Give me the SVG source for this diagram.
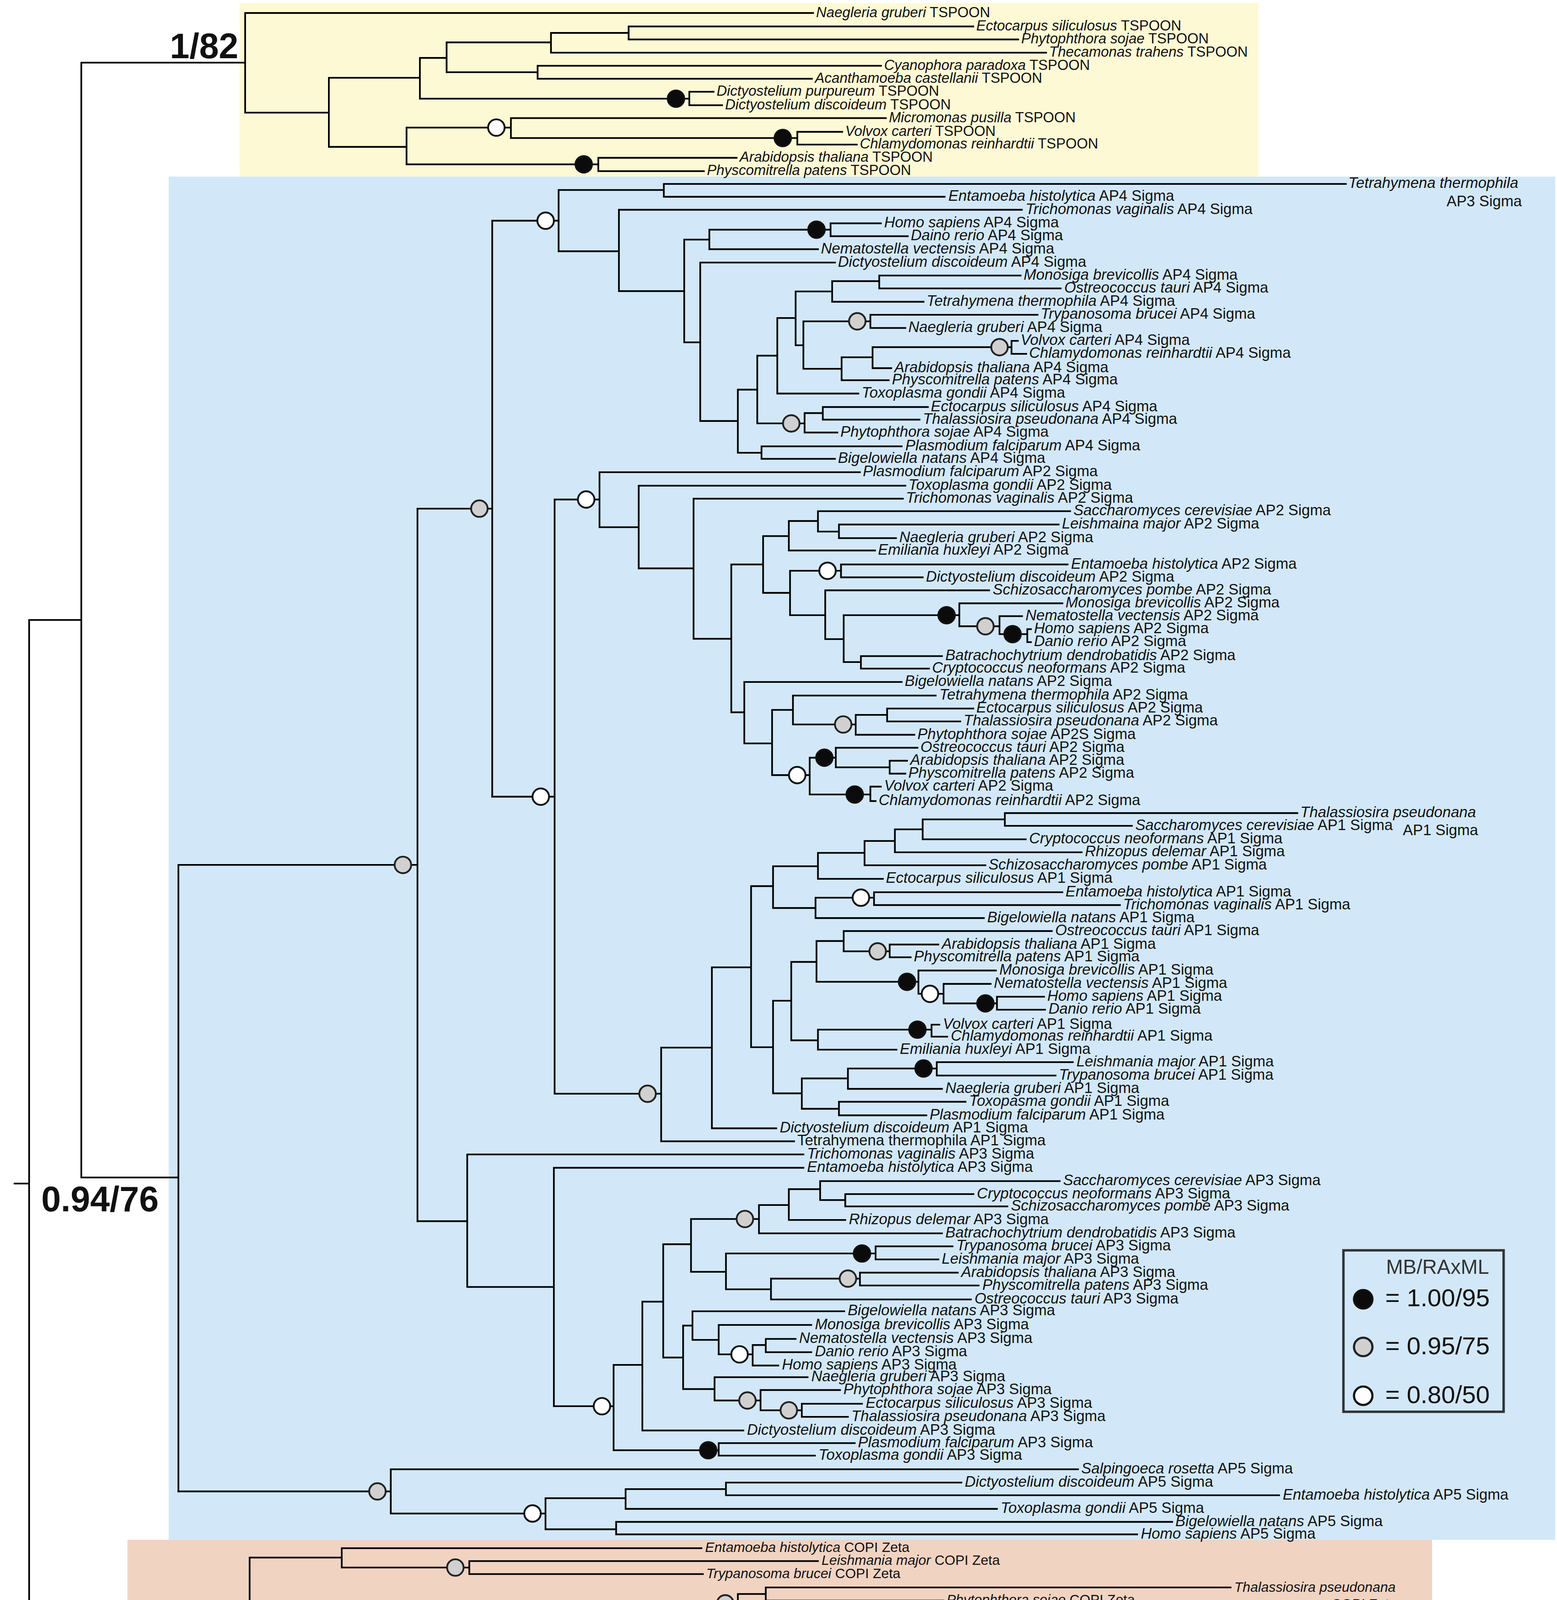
<svg xmlns="http://www.w3.org/2000/svg" width="3987" height="4873" viewBox="0 0 3987 4873">
<defs><style>
.t{font-family:"Liberation Sans",Arial,Helvetica,sans-serif;fill:#111}
.ap{font-size:12.4px}
.ts{font-size:11.8px}
.co{font-size:11.4px}
.i{font-style:italic}
.sup{font-family:"Liberation Sans",Arial,sans-serif;font-weight:bold;font-size:29px;fill:#111}
.br{fill:none;stroke:#000;stroke-width:1.4;stroke-linecap:square}
.b{fill:#0b0b0b;stroke:#111;stroke-width:1.5}
.g{fill:#d0d0d0;stroke:#222;stroke-width:1.5}
.w{fill:#fff;stroke:#111;stroke-width:1.5}
.lg{font-family:"Liberation Sans",Arial,sans-serif;fill:#111;font-size:20.5px}
</style></defs>
<rect width="3987" height="4873" fill="#fff"/>
<g transform="scale(3.1076)">
<g id="clade-boxes">
<rect x="197.5" y="2.5" width="839.5" height="143" fill="#fdf9d5"/>
<rect x="139" y="145.5" width="1142.5" height="1123" fill="#d2e8f8"/>
<rect x="105" y="1268.5" width="1075" height="245.5" fill="#f1d3c2"/>
</g>
<g id="connectors" class="br">
<path d="M12,975H24M24,510.7V1439.2M24,510.7H67M67,51.6V970M67,51.6H202M67,970H147M24,1439.2H110.9"/>
<path d="M202,10.7V92.8M202,10.7H670M202,92.8H271M271,64.1V121M271,64.1H346M346,47.7V81.3M346,47.7H368M368,34.9V59.5M368,34.9H454M454,27.1V43.4M454,27.1H518M518,21.8V32.5M518,21.8H802M518,32.5H839M454,43.4H862M368,59.5H443M443,54.2V64.9M443,54.2H726M443,64.9H669M346,81.3H568M568,75.6V86.7M568,75.6H588M568,86.7H595M271,121H335M335,105.1V135.4M335,105.1H421M421,97.3V113.7M421,97.3H730M421,113.7H657M657,108.6V119.1M657,108.6H694M657,119.1H706M335,135.4H493M493,130V141M493,130H607M493,141H580"/>
<path d="M147,712.5V1228.6M147,712.5H344M344,419V1006M344,419H405.6M405.6,181.8V656.3M405.6,181.8H460.3M460.3,156.5V207M460.3,156.5H547M547,151.5V162.1M547,151.5H1109M547,162.1H778.4M460.3,207H510M510,172.8V239.8M510,172.8H842M510,239.8H563.8M563.8,197.4V282M563.8,197.4H584.5M584.5,189.2V205.3M584.5,189.2H684.4M684.4,184V194.6M684.4,184H725.8M684.4,194.6H748M584.5,205.3H674M563.8,282H577M577,216.3V346.8M577,216.3H688M577,346.8H608M608,321V373M608,321H624M624,293V348.8M624,293H640.5M640.5,262V324.2M640.5,262H655.6M655.6,240.1V284.4M655.6,240.1H685.7M685.7,231.6V248.6M685.7,231.6H724.5M724.5,227V237.6M724.5,227H841M724.5,237.6H874M685.7,248.6H761M655.6,284.4H662M662,264.7V303.8M662,264.7H717.2M717.2,259.3V270.2M717.2,259.3H855M717.2,270.2H746M662,303.8H693.5M693.5,294.3V313.2M693.5,294.3H719M719,286V303.3M719,286H833.5M833.5,280.8V291.5M833.5,280.8H838.7M833.5,291.5H845.6M719,303.3H734.4M693.5,313.2H732.3M640.5,324.2H707.3M624,348.8H663M663,340.3V356.3M663,340.3H678M678,335.3V345.7M678,335.3H764.6M678,345.7H757.7M663,356.3H690M608,373H627.5M627.5,367.7V378M627.5,367.7H743M627.5,378H688"/>
<path d="M405.6,656.3H457M457,411.5V901M457,411.5H494M494,389V434.3M494,389H708.6M494,434.3H526.3M526.3,400.1V468.2M526.3,400.1H746M526.3,468.2H571.5M571.5,410.8V526.2M571.5,410.8H744M571.5,526.2H602.6M602.6,465V586.8M602.6,465H628.8M628.8,441.6V488.4M628.8,441.6H650M650,429.2V453.5M650,429.2H674M674,421.1V437.9M674,421.1H881.8M674,437.9H691.3M691.3,432.1V443.3M691.3,432.1H872.3M691.3,443.3H738.3M650,453.5H721M628.8,488.4H651M651,470.2V506.8M651,470.2H693M693,465V475.6M693,465H879.7M693,475.6H760.3M651,506.8H680M680,486.3V526.5M680,486.3H815M680,526.5H695.2M695.2,506.8V545.4M695.2,506.8H790.5M790.5,497V515.9M790.5,497H875.4M790.5,515.9H823.6M823.6,507.6V522.4M823.6,507.6H842.2M823.6,522.4H846.5M846.5,518.3V529M846.5,518.3H849.5M846.5,529H849.5M695.2,545.4H709.4M709.4,540.5V550.8M709.4,540.5H776.2M709.4,550.8H765.5M602.6,586.8H613.3M613.3,561.8V612.4M613.3,561.8H743M613.3,612.4H636.2M636.2,584.8V638.5M636.2,584.8H653.4M653.4,573V596.8M653.4,573H771M653.4,596.8H705.1M705.1,588.9V605.3M705.1,588.9H731M731,583.7V594.3M731,583.7H802M731,594.3H791.3M705.1,605.3H753.4M636.2,638.5H667.2M667.2,624.2V654.5M667.2,624.2H688.7M688.7,616V632.1M688.7,616H756M688.7,632.1H733.1M733.1,626.7V637.3M733.1,626.7H747.4M733.1,637.3H746M667.2,654.5H717.2M717.2,648V659.9M717.2,648H725.8M717.2,659.9H721.5"/>
<path d="M457,901H544.8M544.8,863V940.2M544.8,863H586.6M544.8,940.2H654.3M586.6,796.9V929.5M586.6,796.9H618.9M586.6,929.5H639.6M618.9,730V862.7M618.9,730H637M637,713.6V748M637,713.6H674M674,702.6V724M674,702.6H712.4M712.4,692.8V712.8M712.4,692.8H737.4M737.4,683.2V702.1M737.4,683.2H760.3M760.3,675V691.4M760.3,675H828M828,669.8V680.3M828,669.8H1069M828,680.3H932.7M760.3,691.4H845.2M737.4,702.1H891.3M712.4,712.8H812M674,724H727.5M637,748H672M672,739.5V756.3M672,739.5H720.2M720.2,735V745.6M720.2,735H875.4M720.2,745.6H922.8M672,756.3H810.7M618.9,862.7H637M637,824.4V900.7M637,824.4H652M652,792.4V857M652,792.4H672.8M672.8,775.2V808.8M672.8,775.2H695.2M695.2,767V783.7M695.2,767H866.7M695.2,783.7H733.1M733.1,778.1V788.6M733.1,778.1H773.2M733.1,788.6H750.4M672.8,808.8H756.8M756.8,799.5V818.7M756.8,799.5H820.6M756.8,818.7H777.5M777.5,810.5V826.6M777.5,810.5H816.3M777.5,826.6H821.5M821.5,821.1V831.8M821.5,821.1H860.3M821.5,831.8H861.1M652,857H674M674,848.2V864.7M674,848.2H767.6M767.6,844.1V854M767.6,844.1H774M767.6,854H780.5M674,864.7H738.7M637,900.7H660.7M660.7,888.4V913.4M660.7,888.4H698.7M698.7,880.2V897M698.7,880.2H771.9M771.9,875V886M771.9,875H884M771.9,886H869.8M698.7,897H776.2M660.7,913.4H691.3M691.3,907.6V918.8M691.3,907.6H795.6M691.3,918.8H763.3"/>
<path d="M344,1006H385M385,951V1060.2M385,951H662M385,1060.2H456.4M456.4,962V1158.4M456.4,962H662M456.4,1158.4H505.6M505.6,1124.4V1194.7M505.6,1124.4H529.3M529.3,1072.3V1178.4M529.3,1072.3H546.5M546.5,1025V1118.3M546.5,1025H569.4M569.4,1004.2V1047.7M569.4,1004.2H625.4M625.4,992.7V1016M625.4,992.7H650M650,979.6V1005M650,979.6H675.8M675.8,973V988.6M675.8,973H873.2M675.8,988.6H696.5M696.5,983.7V993.8M696.5,983.7H802.1M696.5,993.8H830.1M650,1005H696.5M625.4,1016H776.2M569.4,1047.7H598.2M598.2,1032.6V1062.1M598.2,1032.6H721.5M721.5,1026.7V1037.5M721.5,1026.7H784.9M721.5,1037.5H773.2M598.2,1062.1H635.3M635.3,1053.3V1070.5M635.3,1053.3H708.6M708.6,1048.4V1059M708.6,1048.4H789.2M708.6,1059H806.4M635.3,1070.5H800M546.5,1118.3H562.9M562.9,1092V1144.3M562.9,1092H570.6M570.6,1080.2V1103.8M570.6,1080.2H695.6M570.6,1103.8H592.2M592.2,1091.5V1115.7M592.2,1091.5H668.5M592.2,1115.7H620.2M620.2,1108V1124.9M620.2,1108H631M631,1103V1113.9M631,1103H655.6M631,1113.9H668.5M620.2,1124.9H641.3M562.9,1144.3H588.8M588.8,1134.5V1153.7M588.8,1134.5H665.5M588.8,1153.7H626.7M626.7,1145.1V1161.8M626.7,1145.1H692.2M626.7,1161.8H660.7M660.7,1156.4V1167.2M660.7,1156.4H710.3M660.7,1167.2H698.7M529.3,1178.4H612.5M505.6,1194.7H592.2M592.2,1188.8V1199.1M592.2,1188.8H704.3M592.2,1199.1H671.5"/>
<path d="M147,1228.6H322M322,1210.4V1246.8M322,1210.4H888.3M322,1246.8H449.5M449.5,1234.2V1259.8M449.5,1234.2H515.5M515.5,1226.7V1243M515.5,1226.7H598.2M598.2,1221.3V1231.8M598.2,1221.3H792.2M598.2,1231.8H1054M515.5,1243H821.5M449.5,1259.8H507.7M507.7,1253.7V1264M507.7,1253.7H965.9M507.7,1264H937"/>
<path d="M110.9,1377.1V1501.9M110.9,1501.9H411.4M110.9,1377.1H205.7M205.7,1283.1V1470.2M205.7,1283.1H281.6M281.6,1275.4V1291.3M281.6,1275.4H578M281.6,1291.3H386.7M386.7,1286V1296.7M386.7,1286H674M386.7,1296.7H579.2M205.7,1470.2H293.6M293.6,1454.3V1486M293.6,1454.3H343.6M343.6,1439.5V1469.9M343.6,1439.5H398.2M398.2,1420.7V1458.7M398.2,1420.7H438.4M438.4,1393.1V1448.2M438.4,1393.1H476.9M476.9,1355V1432.1M476.9,1355H507.4M507.4,1330.7V1379.3M507.4,1330.7H537.8M537.8,1320.8V1340.5M537.8,1320.8H608M608,1313.1V1329M608,1313.1H631M631,1307.7V1318.5M631,1307.7H1014M631,1318.5H777.4M608,1329H716M537.8,1340.5H714.2M507.4,1379.3H545.9M545.9,1359.1V1400.1M545.9,1359.1H613.7M613.7,1350.9V1366.5M613.7,1350.9H823.4M613.7,1366.5H722.8M722.8,1361.5V1372.7M722.8,1361.5H915.4M722.8,1372.7H1039M545.9,1400.1H590.7M590.7,1388.6V1410.5M590.7,1388.6H668.3M668.3,1383.7V1394.7M668.3,1383.7H681.5M668.3,1394.7H676.9M590.7,1410.5H662.5M662.5,1405V1415.7M662.5,1405H763M662.5,1415.7H711.4M476.9,1432.1H510.3M510.3,1426.4V1437.4M510.3,1426.4H717.1M510.3,1437.4H662.5M438.4,1448.2H533.2M398.2,1458.7H507.4M343.6,1469.9H501.6M293.6,1486H339.6M339.6,1480.6V1491.3M339.6,1480.6H550.5M339.6,1491.3H474.6"/>
<path d="M483.5,1543H637" style="stroke-width:2.1;stroke-linecap:round"/>
</g>
<g id="support-nodes">
<circle class="b" cx="557" cy="81.3" r="6.8"/><circle class="w" cx="409" cy="105.1" r="6.8"/><circle class="b" cx="645" cy="113.7" r="6.8"/><circle class="b" cx="481" cy="135.4" r="6.8"/>
<circle class="g" cx="332" cy="712.5" r="6.8"/><circle class="g" cx="395" cy="419" r="6.8"/><circle class="w" cx="449.6" cy="181.8" r="6.8"/><circle class="b" cx="672.8" cy="189.2" r="6.8"/><circle class="g" cx="706.4" cy="264.7" r="6.8"/><circle class="g" cx="823.6" cy="286" r="6.8"/><circle class="g" cx="652" cy="348.8" r="6.8"/>
<circle class="w" cx="445.6" cy="656.3" r="6.8"/><circle class="w" cx="483" cy="411.5" r="6.8"/><circle class="w" cx="681.9" cy="470.2" r="6.8"/><circle class="b" cx="780" cy="506.8" r="6.8"/><circle class="g" cx="812" cy="515.9" r="6.8"/><circle class="b" cx="834.4" cy="522.4" r="6.8"/><circle class="g" cx="694.8" cy="596.8" r="6.8"/><circle class="w" cx="656.9" cy="638.5" r="6.8"/><circle class="b" cx="679.3" cy="624.2" r="6.8"/><circle class="b" cx="704.3" cy="654.5" r="6.8"/>
<circle class="g" cx="533.6" cy="901" r="6.8"/><circle class="w" cx="709.4" cy="739.5" r="6.8"/><circle class="g" cx="723.2" cy="783.7" r="6.8"/><circle class="b" cx="747.4" cy="808.8" r="6.8"/><circle class="w" cx="766.3" cy="818.7" r="6.8"/><circle class="b" cx="812" cy="826.6" r="6.8"/><circle class="b" cx="756" cy="848.2" r="6.8"/><circle class="b" cx="761" cy="880.2" r="6.8"/>
<circle class="g" cx="613.8" cy="1004.2" r="6.8"/><circle class="b" cx="710.3" cy="1032.6" r="6.8"/><circle class="g" cx="698.7" cy="1053.3" r="6.8"/><circle class="w" cx="609.4" cy="1115.7" r="6.8"/><circle class="g" cx="615.9" cy="1153.7" r="6.8"/><circle class="g" cx="650" cy="1161.8" r="6.8"/><circle class="w" cx="496" cy="1158.4" r="6.8"/><circle class="b" cx="583.6" cy="1194.7" r="6.8"/>
<circle class="g" cx="311" cy="1228.6" r="6.8"/><circle class="w" cx="438.8" cy="1246.8" r="6.8"/>
<circle class="w" cx="194.2" cy="1377.1" r="6.8"/><circle class="g" cx="375.2" cy="1291.3" r="6.8"/><circle class="g" cx="597.6" cy="1320.8" r="6.8"/><circle class="g" cx="710.2" cy="1366.5" r="6.8"/><circle class="g" cx="580.3" cy="1400.1" r="6.8"/><circle class="b" cx="655" cy="1388.6" r="6.8"/><circle class="b" cx="651" cy="1410.5" r="6.8"/>
</g>
<g id="support-labels">
<text class="sup" x="140" y="48">1/82</text>
<text class="sup" x="34" y="998">0.94/76</text>
<text class="sup" x="1" y="1465">0.99/57</text>
</g>
<g id="tspoon-leaves" class="t ts">
<text id="ts01" x="672.5" y="14"><tspan class="i">Naegleria gruberi</tspan> TSPOON</text>
<text id="ts02" x="804.5" y="25.1"><tspan class="i">Ectocarpus siliculosus</tspan> TSPOON</text>
<text id="ts03" x="841.5" y="35.8"><tspan class="i">Phytophthora sojae</tspan> TSPOON</text>
<text id="ts04" x="864.5" y="46.7"><tspan class="i">Thecamonas trahens</tspan> TSPOON</text>
<text id="ts05" x="728.5" y="57.5"><tspan class="i">Cyanophora paradoxa</tspan> TSPOON</text>
<text id="ts06" x="671.5" y="68.2"><tspan class="i">Acanthamoeba castellanii</tspan> TSPOON</text>
<text id="ts07" x="590.5" y="78.9"><tspan class="i">Dictyostelium purpureum</tspan> TSPOON</text>
<text id="ts08" x="597.5" y="90"><tspan class="i">Dictyostelium discoideum</tspan> TSPOON</text>
<text id="ts09" x="732.5" y="100.6"><tspan class="i">Micromonas pusilla</tspan> TSPOON</text>
<text id="ts10" x="696.5" y="111.9"><tspan class="i">Volvox carteri</tspan> TSPOON</text>
<text id="ts11" x="708.5" y="122.4"><tspan class="i">Chlamydomonas reinhardtii</tspan> TSPOON</text>
<text id="ts12" x="609.5" y="133.3"><tspan class="i">Arabidopsis thaliana</tspan> TSPOON</text>
<text id="ts13" x="582.5" y="144.3"><tspan class="i">Physcomitrella patens</tspan> TSPOON</text>
</g>
<g id="ap-leaves" class="t ap">
<text id="ap001" x="1111" y="154.9"><tspan class="i">Tetrahymena thermophila</tspan></text>
<text id="ap001b" x="1254" y="169.9" text-anchor="end">AP3 Sigma</text>
<text id="ap002" x="781.5" y="165.5"><tspan class="i">Entamoeba histolytica</tspan> AP4 Sigma</text>
<text id="ap003" x="845" y="176.2"><tspan class="i">Trichomonas vaginalis</tspan> AP4 Sigma</text>
<text id="ap004" x="728.5" y="187.4"><tspan class="i">Homo sapiens</tspan> AP4 Sigma</text>
<text id="ap005" x="750.5" y="198"><tspan class="i">Daino rerio</tspan> AP4 Sigma</text>
<text id="ap006" x="676.5" y="208.7"><tspan class="i">Nematostella vectensis</tspan> AP4 Sigma</text>
<text id="ap007" x="690.5" y="219.7"><tspan class="i">Dictyostelium discoideum</tspan> AP4 Sigma</text>
<text id="ap008" x="843.5" y="230.4"><tspan class="i">Monosiga brevicollis</tspan> AP4 Sigma</text>
<text id="ap009" x="877" y="241"><tspan class="i">Ostreococcus tauri</tspan> AP4 Sigma</text>
<text id="ap010" x="763.5" y="252"><tspan class="i">Tetrahymena thermophila</tspan> AP4 Sigma</text>
<text id="ap011" x="857.5" y="262.7"><tspan class="i">Trypanosoma brucei</tspan> AP4 Sigma</text>
<text id="ap012" x="748.5" y="273.6"><tspan class="i">Naegleria gruberi</tspan> AP4 Sigma</text>
<text id="ap013" x="841" y="284.2"><tspan class="i">Volvox carteri</tspan> AP4 Sigma</text>
<text id="ap014" x="848" y="294.9"><tspan class="i">Chlamydomonas reinhardtii</tspan> AP4 Sigma</text>
<text id="ap015" x="737" y="306.7"><tspan class="i">Arabidopsis thaliana</tspan> AP4 Sigma</text>
<text id="ap016" x="735" y="316.6"><tspan class="i">Physcomitrella patens</tspan> AP4 Sigma</text>
<text id="ap017" x="710" y="327.6"><tspan class="i">Toxoplasma gondii</tspan> AP4 Sigma</text>
<text id="ap018" x="767" y="338.7"><tspan class="i">Ectocarpus siliculosus</tspan> AP4 Sigma</text>
<text id="ap019" x="760.5" y="349.1"><tspan class="i">Thalassiosira pseudonana</tspan> AP4 Sigma</text>
<text id="ap020" x="692.5" y="359.7"><tspan class="i">Phytophthora sojae</tspan> AP4 Sigma</text>
<text id="ap021" x="746" y="371.1"><tspan class="i">Plasmodium falciparum</tspan> AP4 Sigma</text>
<text id="ap022" x="690.5" y="381.4"><tspan class="i">Bigelowiella natans</tspan> AP4 Sigma</text>
<text id="ap023" x="711" y="392.4"><tspan class="i">Plasmodium falciparum</tspan> AP2 Sigma</text>
<text id="ap024" x="748.5" y="403.5"><tspan class="i">Toxoplasma gondii</tspan> AP2 Sigma</text>
<text id="ap025" x="746.5" y="414.2"><tspan class="i">Trichomonas vaginalis</tspan> AP2 Sigma</text>
<text id="ap026" x="884.5" y="424.5"><tspan class="i">Saccharomyces cerevisiae</tspan> AP2 Sigma</text>
<text id="ap027" x="875" y="435.5"><tspan class="i">Leishmaina major</tspan> AP2 Sigma</text>
<text id="ap028" x="741" y="446.7"><tspan class="i">Naegleria gruberi</tspan> AP2 Sigma</text>
<text id="ap029" x="723.5" y="456.9"><tspan class="i">Emiliania huxleyi</tspan> AP2 Sigma</text>
<text id="ap030" x="882.5" y="468.4"><tspan class="i">Entamoeba histolytica</tspan> AP2 Sigma</text>
<text id="ap031" x="763" y="479"><tspan class="i">Dictyostelium discoideum</tspan> AP2 Sigma</text>
<text id="ap032" x="818" y="489.7"><tspan class="i">Schizosaccharomyces pombe</tspan> AP2 Sigma</text>
<text id="ap033" x="878" y="500.4"><tspan class="i">Monosiga brevicollis</tspan> AP2 Sigma</text>
<text id="ap034" x="845" y="511"><tspan class="i">Nematostella vectensis</tspan> AP2 Sigma</text>
<text id="ap035" x="852" y="521.7"><tspan class="i">Homo sapiens</tspan> AP2 Sigma</text>
<text id="ap036" x="852" y="532.4"><tspan class="i">Danio rerio</tspan> AP2 Sigma</text>
<text id="ap037" x="779" y="543.9"><tspan class="i">Batrachochytrium dendrobatidis</tspan> AP2 Sigma</text>
<text id="ap038" x="768" y="554.2"><tspan class="i">Cryptococcus neoformans</tspan> AP2 Sigma</text>
<text id="ap039" x="745.5" y="565.2"><tspan class="i">Bigelowiella natans</tspan> AP2 Sigma</text>
<text id="ap040" x="774" y="576.4"><tspan class="i">Tetrahymena thermophila</tspan> AP2 Sigma</text>
<text id="ap041" x="804.5" y="587.1"><tspan class="i">Ectocarpus siliculosus</tspan> AP2 Sigma</text>
<text id="ap042" x="794" y="597.7"><tspan class="i">Thalassiosira pseudonana</tspan> AP2 Sigma</text>
<text id="ap043" x="756" y="608.7"><tspan class="i">Phytophthora sojae</tspan> AP2S Sigma</text>
<text id="ap044" x="758.5" y="619.4"><tspan class="i">Ostreococcus tauri</tspan> AP2 Sigma</text>
<text id="ap045" x="750" y="630.1"><tspan class="i">Arabidopsis thaliana</tspan> AP2 Sigma</text>
<text id="ap046" x="748.5" y="640.7"><tspan class="i">Physcomitrella patens</tspan> AP2 Sigma</text>
<text id="ap047" x="728.5" y="651.4"><tspan class="i">Volvox carteri</tspan> AP2 Sigma</text>
<text id="ap048" x="724" y="663.3"><tspan class="i">Chlamydomonas reinhardtii</tspan> AP2 Sigma</text>
<text id="ap049" x="1071.5" y="673.2"><tspan class="i">Thalassiosira pseudonana</tspan></text>
<text id="ap049b" x="1218" y="688" text-anchor="end">AP1 Sigma</text>
<text id="ap050" x="935.5" y="683.7"><tspan class="i">Saccharomyces cerevisiae</tspan> AP1 Sigma</text>
<text id="ap051" x="848" y="694.8"><tspan class="i">Cryptococcus neoformans</tspan> AP1 Sigma</text>
<text id="ap052" x="894" y="705.5"><tspan class="i">Rhizopus delemar</tspan> AP1 Sigma</text>
<text id="ap053" x="814.5" y="716.2"><tspan class="i">Schizosaccharomyces pombe</tspan> AP1 Sigma</text>
<text id="ap054" x="730" y="727.4"><tspan class="i">Ectocarpus siliculosus</tspan> AP1 Sigma</text>
<text id="ap055" x="878" y="738.4"><tspan class="i">Entamoeba histolytica</tspan> AP1 Sigma</text>
<text id="ap056" x="925.5" y="749"><tspan class="i">Trichomonas vaginalis</tspan> AP1 Sigma</text>
<text id="ap057" x="813.5" y="759.7"><tspan class="i">Bigelowiella natans</tspan> AP1 Sigma</text>
<text id="ap058" x="869.5" y="770.4"><tspan class="i">Ostreococcus tauri</tspan> AP1 Sigma</text>
<text id="ap059" x="776" y="781.5"><tspan class="i">Arabidopsis thaliana</tspan> AP1 Sigma</text>
<text id="ap060" x="753" y="792"><tspan class="i">Physcomitrella patens</tspan> AP1 Sigma</text>
<text id="ap061" x="823.5" y="802.9"><tspan class="i">Monosiga brevicollis</tspan> AP1 Sigma</text>
<text id="ap062" x="819" y="813.9"><tspan class="i">Nematostella vectensis</tspan> AP1 Sigma</text>
<text id="ap063" x="863" y="824.5"><tspan class="i">Homo sapiens</tspan> AP1 Sigma</text>
<text id="ap064" x="864" y="835.2"><tspan class="i">Danio rerio</tspan> AP1 Sigma</text>
<text id="ap065" x="777" y="847.5"><tspan class="i">Volvox carteri</tspan> AP1 Sigma</text>
<text id="ap066" x="783.5" y="857.4"><tspan class="i">Chlamydomonas reinhardtii</tspan> AP1 Sigma</text>
<text id="ap067" x="741.5" y="868.1"><tspan class="i">Emiliania huxleyi</tspan> AP1 Sigma</text>
<text id="ap068" x="887" y="878.4"><tspan class="i">Leishmania major</tspan> AP1 Sigma</text>
<text id="ap069" x="872.5" y="889.4"><tspan class="i">Trypanosoma brucei</tspan> AP1 Sigma</text>
<text id="ap070" x="779" y="900.4"><tspan class="i">Naegleria gruberi</tspan> AP1 Sigma</text>
<text id="ap071" x="798.5" y="911"><tspan class="i">Toxopasma gondii</tspan> AP1 Sigma</text>
<text id="ap072" x="766" y="922.2"><tspan class="i">Plasmodium falciparum</tspan> AP1 Sigma</text>
<text id="ap073" x="642.5" y="932.9"><tspan class="i">Dictyostelium discoideum</tspan> AP1 Sigma</text>
<text id="ap074" x="657" y="943.6">Tetrahymena thermophila AP1 Sigma</text>
<text id="ap075" x="665" y="954.4"><tspan class="i">Trichomonas vaginalis</tspan> AP3 Sigma</text>
<text id="ap076" x="665" y="965.4"><tspan class="i">Entamoeba histolytica</tspan> AP3 Sigma</text>
<text id="ap077" x="876" y="976.4"><tspan class="i">Saccharomyces cerevisiae</tspan> AP3 Sigma</text>
<text id="ap078" x="805" y="987.1"><tspan class="i">Cryptococcus neoformans</tspan> AP3 Sigma</text>
<text id="ap079" x="833" y="997.2"><tspan class="i">Schizosaccharomyces pombe</tspan> AP3 Sigma</text>
<text id="ap080" x="699.5" y="1008.4"><tspan class="i">Rhizopus delemar</tspan> AP3 Sigma</text>
<text id="ap081" x="779" y="1019.4"><tspan class="i">Batrachochytrium dendrobatidis</tspan> AP3 Sigma</text>
<text id="ap082" x="788" y="1030.1"><tspan class="i">Trypanosoma brucei</tspan> AP3 Sigma</text>
<text id="ap083" x="776" y="1040.9"><tspan class="i">Leishmania major</tspan> AP3 Sigma</text>
<text id="ap084" x="792" y="1051.8"><tspan class="i">Arabidopsis thaliana</tspan> AP3 Sigma</text>
<text id="ap085" x="809.5" y="1062.4"><tspan class="i">Physcomitrella patens</tspan> AP3 Sigma</text>
<text id="ap086" x="803" y="1073.9"><tspan class="i">Ostreococcus tauri</tspan> AP3 Sigma</text>
<text id="ap087" x="698.5" y="1083.6"><tspan class="i">Bigelowiella natans</tspan> AP3 Sigma</text>
<text id="ap088" x="671.5" y="1094.9"><tspan class="i">Monosiga brevicollis</tspan> AP3 Sigma</text>
<text id="ap089" x="658.5" y="1106.4"><tspan class="i">Nematostella vectensis</tspan> AP3 Sigma</text>
<text id="ap090" x="671.5" y="1117.3"><tspan class="i">Danio rerio</tspan> AP3 Sigma</text>
<text id="ap091" x="644.3" y="1128.3"><tspan class="i">Homo sapiens</tspan> AP3 Sigma</text>
<text id="ap092" x="668.5" y="1137.9"><tspan class="i">Naegleria gruberi</tspan> AP3 Sigma</text>
<text id="ap093" x="695" y="1148.5"><tspan class="i">Phytophthora sojae</tspan> AP3 Sigma</text>
<text id="ap094" x="713.3" y="1159.8"><tspan class="i">Ectocarpus siliculosus</tspan> AP3 Sigma</text>
<text id="ap095" x="701.5" y="1170.6"><tspan class="i">Thalassiosira pseudonana</tspan> AP3 Sigma</text>
<text id="ap096" x="615.5" y="1181.8"><tspan class="i">Dictyostelium discoideum</tspan> AP3 Sigma</text>
<text id="ap097" x="707" y="1192.2"><tspan class="i">Plasmodium falciparum</tspan> AP3 Sigma</text>
<text id="ap098" x="674.5" y="1202.5"><tspan class="i">Toxoplasma gondii</tspan> AP3 Sigma</text>
<text id="ap099" x="891" y="1213.8"><tspan class="i">Salpingoeca rosetta</tspan> AP5 Sigma</text>
<text id="ap100" x="795" y="1224.7"><tspan class="i">Dictyostelium discoideum</tspan> AP5 Sigma</text>
<text id="ap101" x="1057" y="1235.2"><tspan class="i">Entamoeba histolytica</tspan> AP5 Sigma</text>
<text id="ap102" x="824.5" y="1246.4"><tspan class="i">Toxoplasma gondii</tspan> AP5 Sigma</text>
<text id="ap103" x="968.5" y="1257.1"><tspan class="i">Bigelowiella natans</tspan> AP5 Sigma</text>
<text id="ap104" x="940" y="1267.4"><tspan class="i">Homo sapiens</tspan> AP5 Sigma</text>
</g>
<g id="copi-leaves" class="t co">
<text id="co01" x="581" y="1278.6"><tspan class="i">Entamoeba histolytica</tspan> COPI Zeta</text>
<text id="co02" x="677" y="1289.2"><tspan class="i">Leishmania major</tspan> COPI Zeta</text>
<text id="co03" x="582" y="1299.9"><tspan class="i">Trypanosoma brucei</tspan> COPI Zeta</text>
<text id="co04" x="1017" y="1311.2"><tspan class="i">Thalassiosira pseudonana</tspan></text>
<text id="co04b" x="1151" y="1325" text-anchor="end">COPI Zeta</text>
<text id="co05" x="780" y="1321.7"><tspan class="i">Phytophthora sojae</tspan> COPI Zeta</text>
<text id="co06" x="719" y="1332.2"><tspan class="i">Ectocarpus siliculosus</tspan> COPI Zeta</text>
<text id="co07" x="717" y="1343.7"><tspan class="i">Emiliania huxleyi</tspan> COPI Zeta</text>
<text id="co08" x="826" y="1354.1"><tspan class="i">Ostreococcus tauri</tspan> COPI Zeta</text>
<text id="co09" x="918" y="1364.7"><tspan class="i">Plasmodium falciparum</tspan> COPI Zeta</text>
<text id="co10" x="1042" y="1375.9"><tspan class="i">Toxoplasma gondii</tspan> COPI Zeta</text>
<text id="co11" x="684" y="1386.9"><tspan class="i">Chlamydomonas reinhardtii</tspan> COPI Zeta</text>
<text id="co12" x="680" y="1397.9"><tspan class="i">Volvox carteri</tspan> COPI Zeta</text>
<text id="co13" x="766" y="1408.2"><tspan class="i">Arabidopsis thaliana</tspan> COPI Zeta</text>
<text id="co14" x="714" y="1418.9"><tspan class="i">Physcomitrella patens</tspan> COPI Zeta</text>
<text id="co15" x="720" y="1429.6"><tspan class="i">Monosiga brevicollis</tspan> COPI Zeta</text>
<text id="co16" x="665.5" y="1440.6"><tspan class="i">Homo sapiens</tspan> COPI Zeta</text>
<text id="co17" x="536" y="1451.4"><tspan class="i">Batrachochytrium dendrobatidis</tspan> COPI Zeta</text>
<text id="co18" x="510" y="1461.9"><tspan class="i">Rhizopus delemar</tspan> COPI Zeta</text>
<text id="co19" x="504.5" y="1473.1"><tspan class="i">Cryptococcus neoformans</tspan> COPI Zeta</text>
<text id="co20" x="553.5" y="1483.8"><tspan class="i">Schizosaccharomyces pombe</tspan> COPI Zeta</text>
<text id="co21" x="477.5" y="1494.5"><tspan class="i">Sacharomyces cerevisiae</tspan> COPI Zeta</text>
<text id="co22" x="414.5" y="1505.1"><tspan class="i">Bigelowiella natans</tspan> COPI Zeta</text>
</g>
<g id="scale-bar">
<text x="558" y="1566" text-anchor="middle" style="font-family:'Liberation Sans',Arial,sans-serif;font-size:23px;fill:#111">0.3</text>
</g>
<g id="legend">
<rect x="1107" y="1030" width="132" height="133" fill="none" stroke="#333" stroke-width="2"/>
<text x="1227" y="1049.4" text-anchor="end" style="font-family:'Liberation Sans',Arial,sans-serif;font-size:16.8px;fill:#333">MB/RAxML</text>
<circle class="b" cx="1123.3" cy="1070.3" r="7.6" style="stroke-width:1.8"/>
<text class="lg" x="1141.5" y="1076.2">= 1.00/95</text>
<circle class="g" cx="1123.3" cy="1109.6" r="7.6" style="stroke-width:1.8"/>
<text class="lg" x="1141.5" y="1115.6">= 0.95/75</text>
<circle class="w" cx="1123.3" cy="1149.8" r="7.6" style="stroke-width:1.8"/>
<text class="lg" x="1141.5" y="1155.8">= 0.80/50</text>
</g>
</g>
</svg>
